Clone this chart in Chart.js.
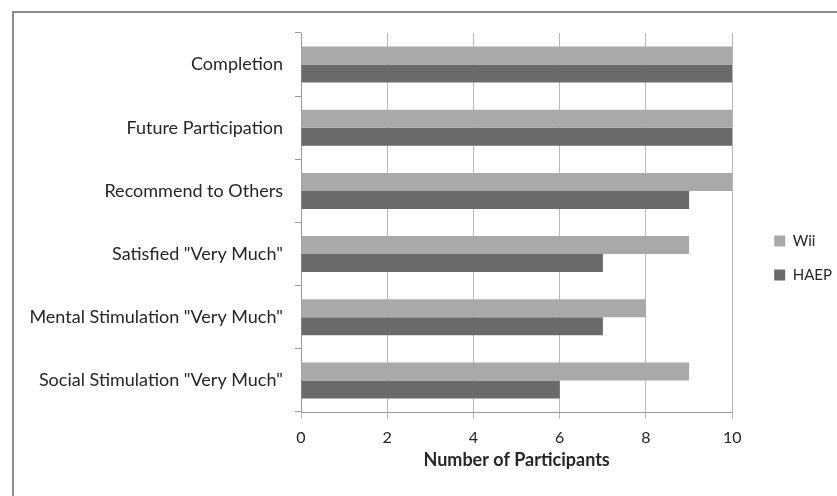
<!DOCTYPE html>
<html>
<head>
<meta charset="utf-8">
<script src="https://cdn.jsdelivr.net/npm/chart.js@4/dist/chart.umd.min.js"></script>
<style>
  html, body { margin: 0; padding: 0; background: #fff; overflow: hidden; }
  #wrap { position: relative; width: 837px; height: 496px; }
  #frame { position: absolute; left: 12px; top: 11px; width: 900px; height: 600px; border: 2px solid #8b8b8f; }
  #chart { position: absolute; left: 0; top: 0; }
</style>
</head>
<body>
<div id="wrap">
  <div id="frame"></div>
  <canvas id="chart" width="837" height="496"></canvas>
</div>
<script>
// Kategori (atas ke bawah)
const categories = [
    'Completion',
    'Future Participation',
    'Recommend to Others',
    'Satisfied "Very Much"',
    'Mental Stimulation "Very Much"',
    'Social Stimulation "Very Much"'
];

// Nilai seri
const wiiValues = [10, 10, 10, 9, 8, 9];
const haepValues = [10, 10, 9, 7, 7, 6];

// Label sumbu
const xTicks = [0, 2, 4, 6, 8, 10];
const xTitle = 'Number of Participants';

const fontFamily = 'Lato, "Open Sans", sans-serif';
const textColor = '#262626';

Chart.defaults.font.family = fontFamily;
Chart.defaults.color = textColor;

new Chart(document.getElementById('chart'), {
    type: 'bar',
    data: {
        labels: categories,
        datasets: [
            { label: 'Wii', data: wiiValues, backgroundColor: '#a9a9ac' },
            { label: 'HAEP', data: haepValues, backgroundColor: '#6a6a6d' }
        ]
    },
    options: {
        indexAxis: 'y',
        responsive: false,
        animation: false,
        datasets: {
            bar: { categoryPercentage: 0.57, barPercentage: 1, borderWidth: 0 }
        },
        layout: { padding: { top: 33, left: 20, right: -5, bottom: 13 } },
        plugins: {
            legend: {
                position: 'right',
                labels: {
                    boxWidth: 11,
                    boxHeight: 11,
                    padding: 19,
                    font: { size: 15 },
                    color: textColor
                }
            },
            tooltip: { enabled: false }
        },
        scales: {
            x: {
                min: 0,
                max: 10,
                afterBuildTicks: (scale) => {
                    scale.ticks = xTicks.map(v => ({ value: v }));
                },
                grid: { color: '#b8b8b8', lineWidth: 1, tickLength: 7 },
                border: { color: '#9a9a9a' },
                ticks: { padding: 9, font: { size: 16 }, color: textColor },
                title: {
                    display: true,
                    text: xTitle,
                    font: { size: 18, weight: 'bold' },
                    color: textColor,
                    padding: { top: 2, bottom: 12 }
                },
                afterFit: (scale) => { scale.height = 496 - 13 - 412; }
            },
            y: {
                type: 'category',
                offset: true,
                grid: { drawOnChartArea: false, offset: true, tickLength: 6, color: '#9a9a9a' },
                border: { color: '#9a9a9a' },
                ticks: { padding: 12, font: { size: 18 }, color: textColor },
                afterFit: (scale) => { scale.width = 301 - 20; }
            },
            yGap: {
                type: 'linear',
                position: 'right',
                display: true,
                grid: { display: false },
                border: { display: false },
                ticks: { display: false },
                afterFit: (scale) => { scale.width = 23; }
            }
        }
    }
});
</script>
</body>
</html>
